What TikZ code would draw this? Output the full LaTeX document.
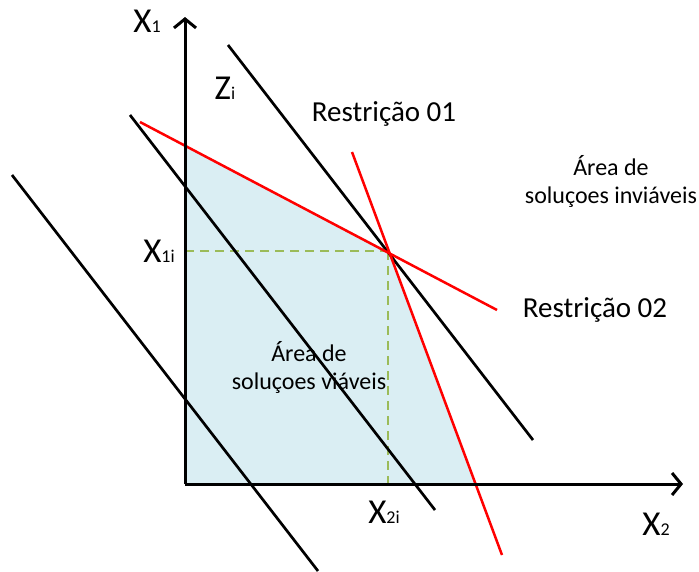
\documentclass[tikz,border=0pt]{standalone}
\usepackage{fontspec}
\setmainfont{Carlito}
\usetikzlibrary{arrows.meta}
\definecolor{feas}{HTML}{DAEEF3}
\definecolor{dgreen}{HTML}{9BBB59}
\definecolor{rred}{HTML}{FF0000}
\begin{document}
\begin{tikzpicture}[x=1pt,y=-1pt,
  axis/.style={line width=3pt,-{Straight Barb[length=9pt,width=22pt,line width=3pt]}},
  isoline/.style={line width=2.7pt,black},
  restr/.style={line width=2.5pt,rred},
  guide/.style={line width=2.2pt,dgreen,dash pattern=on 9pt off 6pt},
  lbl/.style={inner sep=0pt,font=\fontsize{29}{34}\selectfont},
  axlbl/.style={inner sep=0pt,font=\fontsize{35}{38}\selectfont},
  sub/.style={},
  area/.style={inner sep=0pt,align=center,font=\fontsize{24}{28}\selectfont}]
\useasboundingbox (0,0) rectangle (699,571);
% feasible region
\coordinate (O) at (185,484);
\coordinate (A) at (185,146);
\coordinate (P) at (388,251);
\coordinate (B) at (475,484);
\fill[feas] (O) -- (A) -- (P) -- (B) -- cycle;
% guides
\coordinate (Px) at (185,251);
\coordinate (Py) at (388,484);
\draw[guide] (Px) -- (P);
\draw[guide] (P) -- (Py);
% iso lines
\coordinate (z1a) at (228,45); \coordinate (z1b) at (533,440);
\coordinate (z2a) at (130,115); \coordinate (z2b) at (435,510);
\coordinate (z3a) at (12,175); \coordinate (z3b) at (318,571);
\draw[isoline] (z1a) -- (z1b);
\draw[isoline] (z2a) -- (z2b);
\draw[isoline] (z3a) -- (z3b);
% restrictions
\coordinate (r1a) at (352,152); \coordinate (r1b) at (502,555);
\coordinate (r2a) at (140,122); \coordinate (r2b) at (497,310);
\draw[restr] (r1a) -- (r1b);
\draw[restr] (r2a) -- (r2b);
% axes
\coordinate (Ytip) at (185,17);
\coordinate (Xtip) at (683,484);
\draw[axis] (O) -- (Ytip);
\draw[axis] (O) -- (Xtip);
% labels
\newcommand\subsz[1]{{\fontsize{18}{20}\selectfont #1}}
\node[axlbl] (lx1) at (147,21) {X\subsz{1}};
\node[axlbl] (lzi) at (225,88) {Z\subsz{i}};
\node[axlbl] (lx1i) at (159,251) {X\subsz{1i}};
\node[axlbl] (lx2i) at (384,512) {X\subsz{2i}};
\node[axlbl] (lx2) at (656,524) {X\subsz{2}};
\node[lbl] (lr1) at (384,114) {Restrição 01};
\node[lbl] (lr2) at (595,310) {Restrição 02};
\node[area] (linv) at (611,181) {Área de\\soluçoes inviáveis};
\node[area] (lviav) at (309,367) {Área de\\soluçoes viáveis};
\end{tikzpicture}
\end{document}
